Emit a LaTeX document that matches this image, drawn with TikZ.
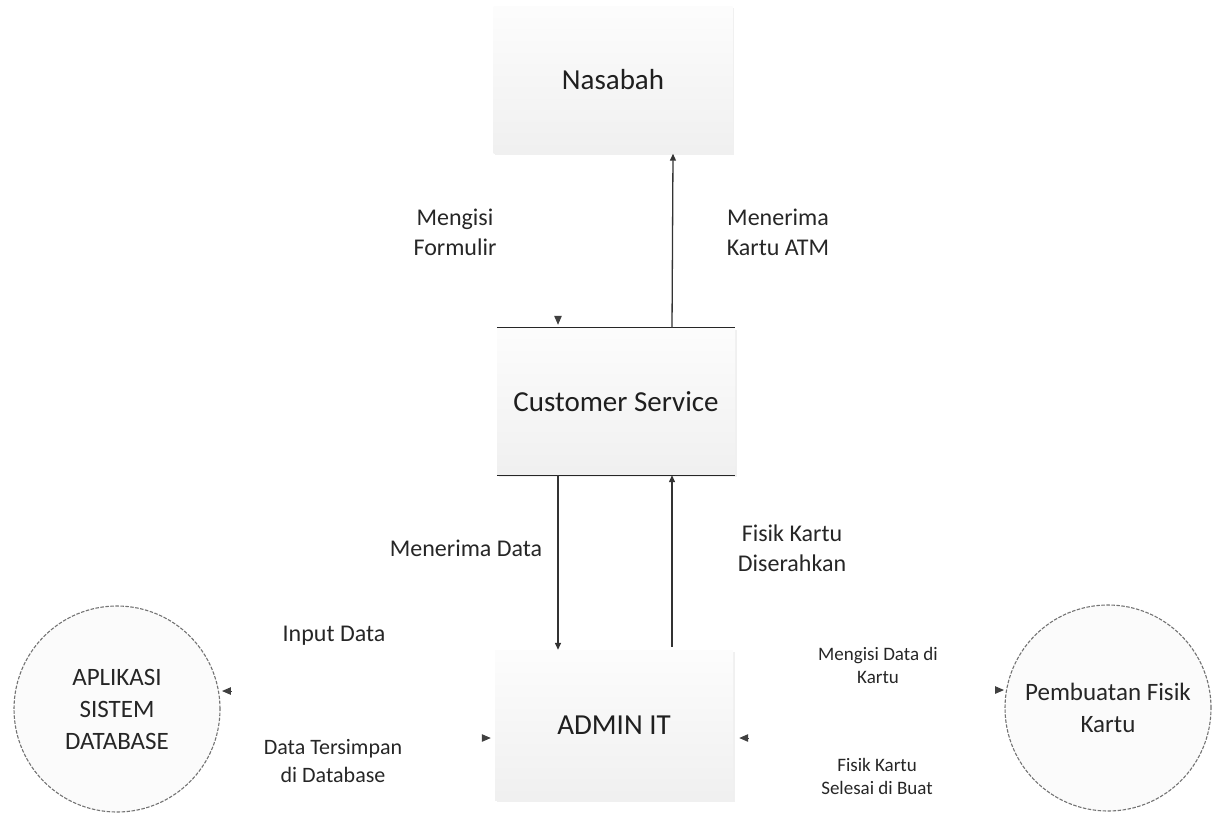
\documentclass[tikz,border=0pt]{standalone}
\usepackage{fontspec}
\setmainfont{Carlito}
\usetikzlibrary{arrows.meta,shadows,calc}

\tikzset{
  entity/.style={shape=rectangle, inner sep=0pt, top color=gray!2, bottom color=gray!12,
    draw=none, drop shadow={shadow xshift=1.5pt, shadow yshift=-1.5pt, opacity=.12},
    font=\fontsize{29}{32}\selectfont, text=black!88},
  store/.style={shape=circle, inner sep=0pt, minimum size=206pt, fill=gray!3,
    draw=black!55, line width=1.1pt, dash pattern=on 3.5pt off 1.5pt,
    align=center, font=\fontsize{25}{32}\selectfont, text=black!85},
  flow/.style={draw=black!80, line width=1.3pt, -{Triangle[length=7pt,width=6pt]}},
  tiponly/.style={draw=black!75, line width=1pt, -{Triangle[length=9pt,width=7.5pt]}},
  lbl/.style={align=center, font=\fontsize{24}{30}\selectfont, text=black!85},
  slbl/.style={align=center, font=\fontsize{19}{23}\selectfont, text=black!85},
  edge/.style={draw=black!85, line width=1.3pt}
}

\begin{document}
\begin{tikzpicture}[x=1pt, y=-1pt]
  \useasboundingbox (0,0) rectangle (1214,814);

  % main entities
  \node[entity, minimum width=239pt, minimum height=147pt] (nas) at (613,80) {Nasabah};
  \node[entity, minimum width=238pt, minimum height=147pt] (cs) at (616,401.5) {Customer Service};
  \node[entity, minimum width=238pt, minimum height=150pt] (adm) at (614,725) {ADMIN IT};

  % top and bottom rules of the Customer Service box
  \draw[edge] (cs.north west) -- (cs.north east);
  \draw[edge] (cs.south west) -- (cs.south east);

  % data stores
  \node[store] (db) at (117,709) {APLIKASI\\SISTEM\\DATABASE};
  \node[store] (pfk) at (1108,708) {Pembuatan Fisik\\Kartu};

  % vertical flows
  \draw[flow] ([xshift=56pt]cs.north) -- ([xshift=60pt]nas.south);
  \draw[flow] ([xshift=-58pt]cs.south) -- ([xshift=-56pt]adm.north);
  \draw[flow] ([xshift=58pt,yshift=3pt]adm.north) -- ([xshift=56pt]cs.south);

  % flows shown by their heads only (segment no longer than the head)
  \coordinate (f1) at ([xshift=-58pt,yshift=12pt]cs.north);
  \coordinate (f1t) at ([xshift=-58pt,yshift=3pt]cs.north);
  \draw[tiponly] (f1) -- (f1t);

  \coordinate (f2) at ($(db.10)+(12,0)$);
  \draw[tiponly] (f2) -- ([xshift=3pt]db.10);

  \coordinate (f3) at ($(adm.west)+(-13,13)$);
  \draw[tiponly] (f3) -- ($(adm.west)+(-4,13)$);

  \coordinate (f4) at ($(pfk.170)+(-11,0)$);
  \draw[tiponly] (f4) -- ([xshift=-2pt]pfk.170);

  \coordinate (f5) at ($(adm.east)+(15,13)$);
  \draw[tiponly] (f5) -- ($(adm.east)+(6,13)$);

  % labels
  \node[lbl] (l1) at (455,232) {Mengisi\\Formulir};
  \node[lbl] (l2) at (778,232) {Menerima\\Kartu ATM};
  \node[lbl] (l3) at (466,548) {Menerima Data};
  \node[lbl] (l4) at (792,548) {Fisik Kartu\\Diserahkan};
  \node[lbl] (l5) at (334,636) {Input Data};
  \node[lbl, font=\fontsize{22}{28}\selectfont] (l6) at (333,761) {Data Tersimpan\\di Database};
  \node[slbl] (l7) at (878,665) {Mengisi Data di\\Kartu};
  \node[slbl] (l8) at (877,776) {Fisik Kartu\\Selesai di Buat};
\end{tikzpicture}
\end{document}
